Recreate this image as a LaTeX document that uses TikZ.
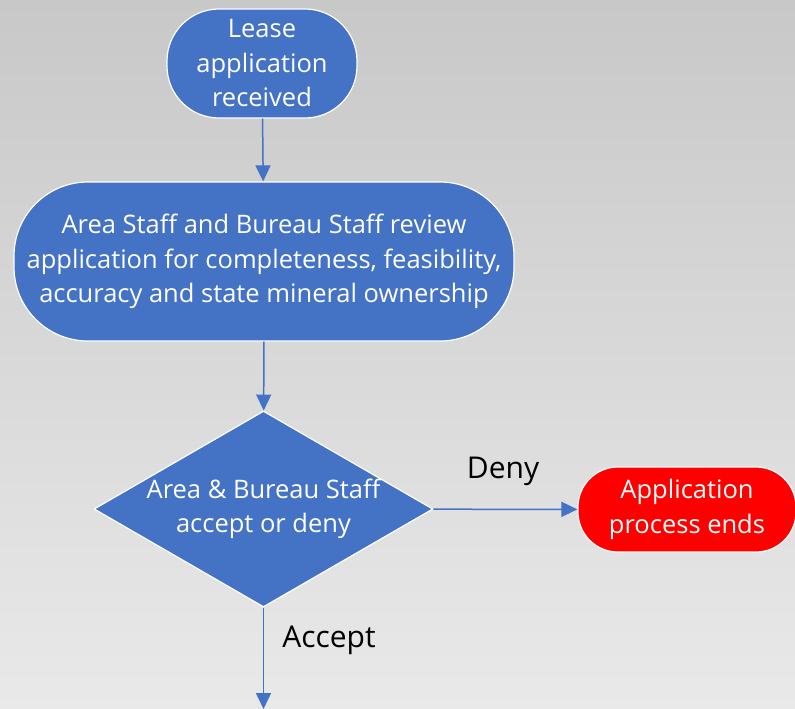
\documentclass[tikz,border=0pt]{standalone}
\usepackage{fontspec}
\setmainfont{Open Sans}
\usetikzlibrary{arrows.meta,shapes.geometric,positioning}
\definecolor{flowblue}{RGB}{68,114,196}
\definecolor{endred}{RGB}{255,0,0}
\definecolor{bgtop}{RGB}{200,200,200}
\definecolor{bgbot}{RGB}{233,233,233}
\tikzset{
  boxtext/.style={text=white, align=center, font=\fontsize{25.5}{34.5}\selectfont, inner sep=0pt},
  terminal/.style={boxtext, draw=white, line width=1.2pt, fill=flowblue, rectangle},
  decision/.style={boxtext, draw=white, line width=1.2pt, fill=flowblue, diamond},
  flowarrow/.style={draw=flowblue, line width=1.5pt, -{Triangle[width=15pt,length=16pt]}},
  branch/.style={font=\fontsize{30}{34}\selectfont, text=black}
}

\begin{document}
\begin{tikzpicture}[x=1pt, y=-1pt, line join=round]
\shade[top color=bgtop, bottom color=bgbot] (0,0) rectangle (795,709);
\useasboundingbox (0,0) rectangle (795,709);
% flow boxes
\node[terminal, minimum width=190pt, minimum height=109pt, rounded corners=52pt] (received) at (262,63.5) {Lease\\application\\received};
\node[terminal, minimum width=500pt, minimum height=159pt, rounded corners=74pt] (review) at (264,261.5) {Area Staff and Bureau Staff review\\application for completeness, feasibility,\\accuracy and state mineral ownership};
\node[decision, minimum width=339pt, minimum height=196pt, shape aspect=1.73] (decide) at (263.5,509) {Area \& Bureau Staff\\accept or deny};
\node[terminal, fill=endred, minimum width=218pt, minimum height=85pt, rounded corners=40pt] (ends) at (687,509.5) {Application\\process ends};
\coordinate (next) at (263.5,709);
% connectors
\draw[flowarrow] (received) -- (review);
\draw[flowarrow] (review) -- (decide);
\draw[flowarrow] (decide) -- (ends);
\draw[flowarrow] (decide) -- (next);
\node[branch] (deny) at (503,471) {Deny};
\node[branch] (accept) at (329,640) {Accept};
\end{tikzpicture}
\end{document}
